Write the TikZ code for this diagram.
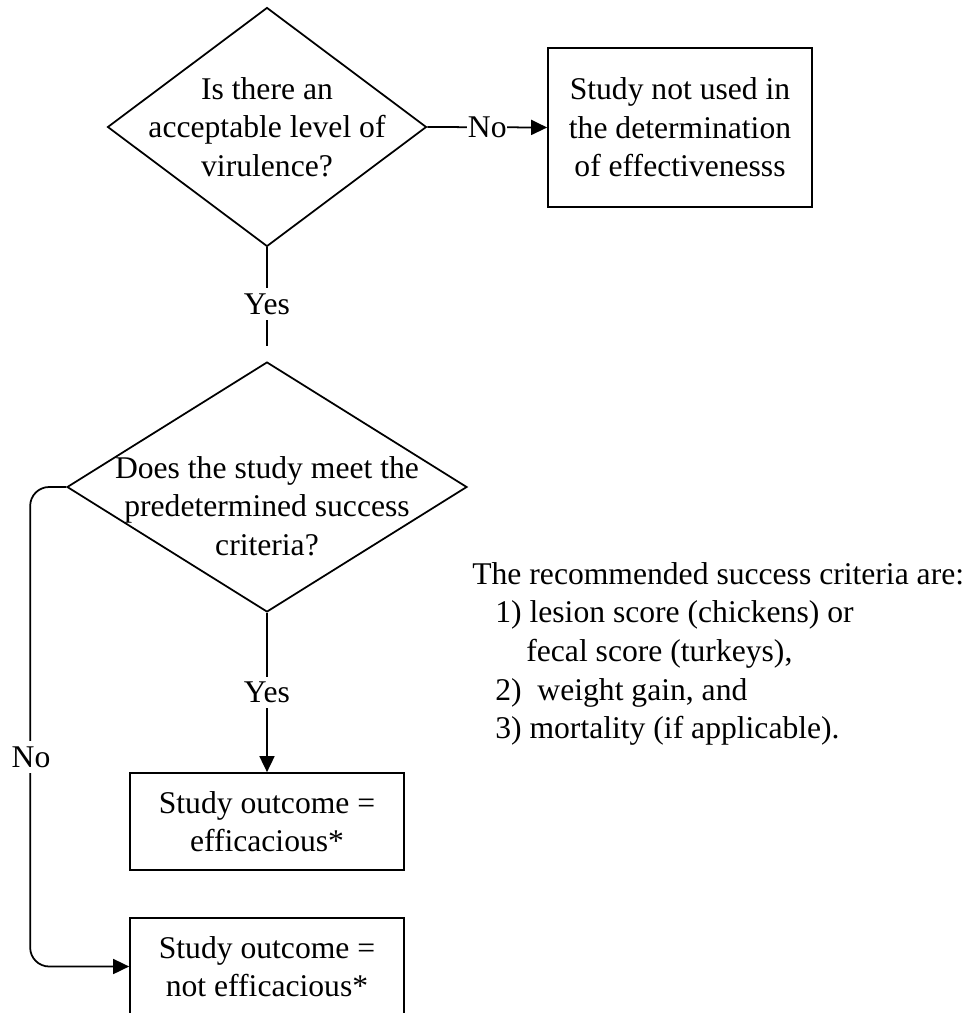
\documentclass[tikz,border=0pt]{standalone}
\usepackage{fontspec}
\setmainfont{Liberation Serif}
\usetikzlibrary{arrows.meta, positioning, calc, shapes.geometric}

\begin{document}
\begin{tikzpicture}[
        x=0.02cm, y=-0.02cm,
        rombo/.style={
            diamond,
            draw=black,
            line width=1pt,
            inner sep=0pt
        },
        bloque/.style={
            rectangle,
            draw=black,
            line width=1pt,
            align=center,
            font=\fontsize{18}{22}\selectfont
        },
        texto/.style={
            align=center,
            font=\fontsize{18}{22}\selectfont
        },
        etiqueta/.style={
            fill=white,
            inner xsep=0.5pt,
            inner ysep=3pt,
            font=\fontsize{18}{22}\selectfont
        },
        linea/.style={line width=1pt, draw=black},
        flecha/.style={-{Triangle[length=3.2mm, width=3mm]}, line width=1pt, draw=black}
    ]
        \clip (0,0) rectangle (971,1013);

        % decisiones
        \node[rombo, minimum width=6.38cm, minimum height=4.78cm] (virulencia) at (267,127) {};
        \node[texto] (virulenciat) at (virulencia.center)
            {Is there an\\acceptable level of\\virulence?};

        \node[rombo, minimum width=8cm, minimum height=5cm] (criterio) at (267,487) {};
        \node[texto] (criteriot) at (267,506)
            {Does the study meet the\\predetermined success\\criteria?};

        % resultados
        \node[bloque, minimum width=5.28cm, minimum height=3.18cm] (descartado) at (680,127.5)
            {Study not used in\\the determination\\of effectivenesss};

        \node[bloque, minimum width=5.48cm, minimum height=1.94cm] (eficaz) at (267,821.5)
            {Study outcome =\\efficacious*};

        \node[bloque, minimum width=5.48cm, minimum height=1.94cm] (noeficaz) at (267,966.5)
            {Study outcome =\\not efficacious*};

        % nota
        \node[texto, align=left, anchor=north west, inner sep=0pt] (criterios) at (472,562)
            {The recommended success criteria are:\\
             \hspace*{0.46cm}1) lesion score (chickens) or\\
             \hspace*{1.08cm}fecal score (turkeys),\\
             \hspace*{0.46cm}2)\ \ weight gain, and\\
             \hspace*{0.46cm}3) mortality (if applicable).};

        \draw[flecha] (virulencia.east) -- node[etiqueta] (no1) {No} (descartado.west);
        \draw[linea, shorten >=0.3cm] (virulencia.south) -- node[etiqueta] (si1) {Yes} (criterio.north);
        \draw[flecha] (criterio.south) -- node[etiqueta] (si2) {Yes} (eficaz.north);
        \draw[flecha, rounded corners=0.38cm] (criterio.west) -- ++(-36,0) |- (noeficaz.west);
        \node[etiqueta] (no2) at (31,757) {No};
    \end{tikzpicture}
\end{document}
